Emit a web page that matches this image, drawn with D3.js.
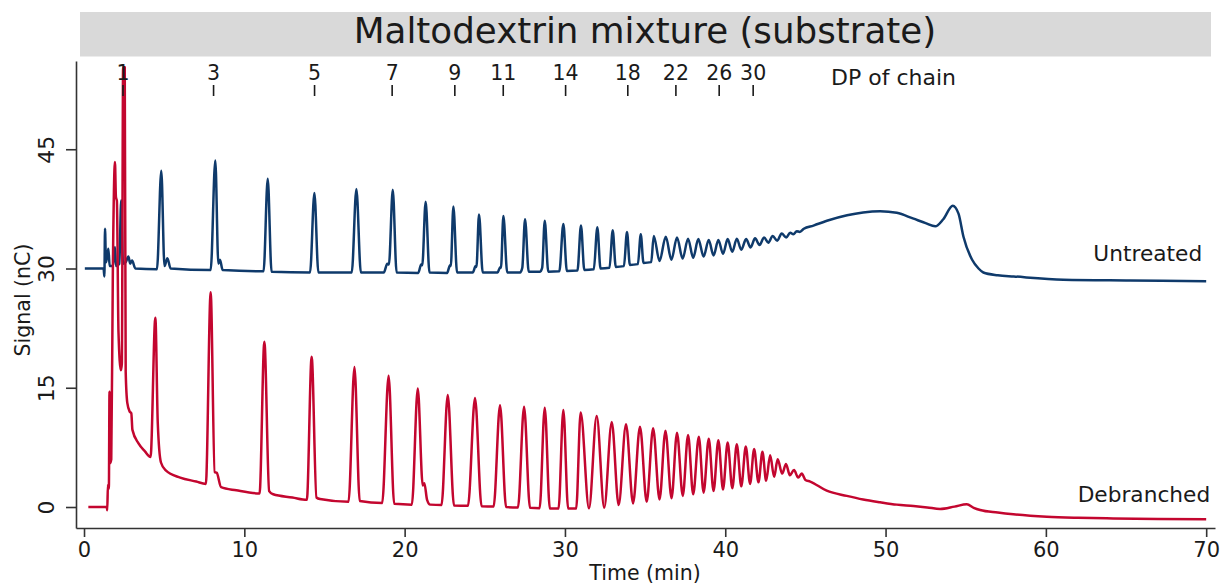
<!DOCTYPE html>
<html>
<head>
<meta charset="utf-8">
<script src="https://cdn.jsdelivr.net/npm/d3@7"></script>
<style>
  body { margin: 0; background: #fff; }
  svg { font-family: "DejaVu Sans", sans-serif; }
</style>
</head>
<body>
<svg id="chart" width="1220" height="585"></svg>
<script>
// values: [time (min), signal (nC)]
const untreated = [
  [0.05,30.0],[1.22,30.0],[1.27,29.0],[1.31,35.0],[1.37,30.8],[1.45,31.6],[1.52,32.5],[1.6,30.3],[1.8,30.3],[1.93,32.7],[2.0,30.3],[2.2,30.6],[2.32,38.6],[2.43,30.6],[2.6,30.8],[2.77,31.5],[2.88,30.6],[3.0,31.0],[3.2,30.0],
  [4.55,29.9],[4.82,42.3],[5.02,30.3],[5.2,31.3],[5.4,30.0],
  [7.9,29.8],[8.19,43.6],[8.38,30.6],[8.48,31.1],[8.65,29.8],
  [11.2,29.65],[11.46,41.3],[11.7,29.6],
  [14.1,29.5],[14.37,39.5],[14.62,29.5],
  [16.7,29.5],[16.99,40.0],[17.27,29.5],
  [18.7,29.5],[18.92,30.6],[19.02,30.5],[19.26,39.9],[19.5,29.5],
  [20.85,29.45],[21.03,30.5],[21.1,30.4],[21.31,38.4],[21.55,29.5],
  [22.65,29.45],[22.83,30.4],[22.88,30.3],[23.04,37.8],[23.27,29.5],
  [24.25,29.5],[24.43,30.3],[24.48,30.2],[24.64,36.8],[24.87,29.5],
  [25.8,29.5],[25.97,30.2],[26.01,30.1],[26.16,36.6],[26.4,29.5],
  [27.2,29.5],[27.34,30.1],[27.51,36.2],[27.74,29.6],
  [28.45,29.6],[28.58,30.1],[28.74,36.0],[28.96,29.6],
  [29.65,29.65],[29.9,35.6],[30.12,29.7],
  [30.78,29.75],[31.0,35.4],[31.21,29.8],
  [31.8,29.9],[32.02,35.2],[32.22,30.0],
  [32.78,30.1],[32.98,34.8],[33.17,30.2],
  [33.68,30.3],[33.87,34.6],[34.05,30.45],
  [34.55,30.55],[34.73,34.3],[34.9,30.7],
  [35.38,30.8],[35.54,34.1],[35.9,30.95],
  [36.29,34.0],[36.64,31.1],[36.99,33.9],[37.34,31.25],[37.68,33.75],[38.0,31.35],[38.32,33.7],[38.65,31.5],
  [38.97,33.6],[39.27,31.65],[39.57,33.6],[39.86,31.85],[40.15,33.7],[40.44,32.1],[40.72,33.75],[41.0,32.35],
  [41.3,33.7],[41.58,32.65],[41.86,33.8],[42.14,32.95],[42.42,33.9],[42.69,33.25],[42.96,34.1],[43.24,33.5],
  [43.52,34.4],[43.8,33.9],[44.05,34.5],[44.25,34.3],[44.46,34.7],[44.65,34.6],[44.9,35.0],
  [45.5,35.4],[46.5,36.1],[47.6,36.7],[48.6,37.05],[49.66,37.2],[50.7,37.0],[51.7,36.3],[52.5,35.7],[53.1,35.3],
  [53.6,36.2],[54.19,37.9],[54.55,36.9],[54.86,34.0],[55.4,31.1],[55.8,30.0],[56.1,29.5],[57.0,29.15],[58.0,29.0],
  [61.1,28.6],[65.25,28.5],[70.0,28.4]
];

const debranched = [
  [0.27,0.0],[1.42,0.0],[1.45,-0.4],[1.49,2.8],[1.55,2.3],[1.59,14.5],[1.62,5.5],[1.7,6.0],[1.8,30.0],[1.93,43.4],[1.99,39.0],[2.05,38.5],
  [2.15,22.0],[2.3,17.2],[2.36,18.0],[2.44,55.3],[2.54,55.3],[2.6,17.0],[2.7,13.1],[2.85,12.0],[2.95,11.8],[3.02,9.7],[3.4,8.0],[3.8,7.0],[4.15,6.3],
  [4.45,23.8],[4.6,10.6],[4.8,5.6],[5.1,4.6],[6.0,3.7],[7.0,3.2],[7.6,2.9],
  [7.9,27.0],[8.15,4.4],[8.28,4.3],[8.55,2.5],[9.5,2.1],[10.95,1.7],
  [11.25,20.8],[11.55,2.0],[11.8,1.6],[13.0,1.2],[13.9,0.9],
  [14.2,18.9],[14.5,1.2],[14.72,1.0],[16.5,0.65],
  [16.87,17.6],[17.2,0.75],[18.6,0.5],
  [19.0,16.5],[19.35,0.4],[20.45,0.3],
  [20.82,14.9],[21.13,2.7],[21.23,3.0],[21.4,0.9],[21.6,0.3],[22.3,0.25],
  [22.69,14.1],[23.08,0.2],[23.95,0.15],
  [24.39,13.7],[24.8,0.1],[25.55,0.05],
  [25.95,12.8],[26.33,0.0],[27.07,-0.05],
  [27.45,12.6],[27.82,-0.1],[28.42,-0.15],
  [28.74,12.5],[29.06,-0.2],[29.6,-0.2],
  [29.9,12.2],[30.2,-0.2],[30.7,-0.2],
  [30.98,11.9],[31.5,-0.17],[31.98,11.45],[32.45,-0.1],[32.92,10.7],[33.35,0.25],[33.81,10.4],[34.25,0.45],
  [34.68,10.1],[35.1,0.66],[35.5,9.9],[35.9,0.95],[36.27,9.6],[36.65,1.1],[36.99,9.35],[37.35,1.4],
  [37.68,9.05],[38.0,1.6],[38.35,8.85],[38.65,1.8],[38.97,8.6],[39.27,2.0],[39.57,8.4],[39.86,2.2],
  [40.15,8.1],[40.44,2.35],[40.72,7.9],[41.0,2.6],[41.28,7.6],[41.55,2.9],[41.8,7.3],[42.07,3.1],
  [42.32,6.95],[42.55,3.3],[42.8,6.5],[43.05,3.8],[43.27,6.0],[43.55,4.2],[43.79,5.4],[44.03,4.0],
  [44.29,4.65],[44.55,3.7],[44.77,4.2],[45.0,3.4],[45.3,3.2],[46.33,2.05],[47.58,1.4],[48.6,0.95],
  [49.66,0.6],[50.7,0.3],[51.74,0.13],[52.6,-0.05],[53.4,-0.25],[54.3,0.05],[55.07,0.35],[55.5,-0.1],
  [55.9,-0.38],[57.0,-0.7],[57.97,-0.92],[60.06,-1.22],[62.0,-1.35],[64.2,-1.43],[67.0,-1.5],[70.0,-1.55]
];

const dpLabels = ["1", "3", "5", "7", "9", "11", "14", "18", "22", "26", "30"];
const dpTimes = [2.40, 8.05, 14.35, 19.19, 23.10, 26.12, 30.01, 33.89, 36.89, 39.59, 41.71];
const xTicks = [0, 10, 20, 30, 40, 50, 60, 70];
const yTicks = [0, 15, 30, 45];

const svg = d3.select("#chart");
const ink = "#1a1a1a";

const x = d3.scaleLinear().domain([-0.5, 70.55]).range([76, 1215]);
const y = d3.scaleLinear().domain([-2.64, 56.1]).range([528, 61]);

// title strip
svg.append("rect")
    .attr("x", 80).attr("y", 12)
    .attr("width", 1131).attr("height", 44.5)
    .attr("fill", "#d9d9d9");
svg.append("text")
    .attr("x", 645).attr("y", 43)
    .attr("text-anchor", "middle")
    .attr("font-size", 35.7)
    .attr("fill", ink)
    .text("Maltodextrin mixture (substrate)");

// traces
const line = d3.line()
    .x(d => x(d[0]))
    .y(d => y(d[1]))
    .curve(d3.curveMonotoneX);

svg.append("path")
    .datum(untreated)
    .attr("d", line)
    .attr("fill", "none")
    .attr("stroke", "#0f3a6b")
    .attr("stroke-width", 2.5)
    .attr("stroke-linejoin", "round");

svg.append("path")
    .datum(debranched)
    .attr("d", line)
    .attr("fill", "none")
    .attr("stroke", "#c3062f")
    .attr("stroke-width", 2.5)
    .attr("stroke-linejoin", "round");

// axes
const xAxis = svg.append("g")
    .attr("transform", "translate(0,528)")
    .call(d3.axisBottom(x).tickValues(xTicks).tickSize(9).tickSizeOuter(0).tickPadding(5));

const yAxis = svg.append("g")
    .attr("transform", "translate(76,0)")
    .call(d3.axisLeft(y).tickValues(yTicks).tickSize(10).tickSizeOuter(0));

[xAxis, yAxis].forEach(g => {
    g.select(".domain").attr("stroke", "#333").attr("stroke-width", 1.6);
    g.selectAll(".tick line").attr("stroke", "#333").attr("stroke-width", 1.6);
    g.selectAll("text").attr("font-size", 21).attr("fill", ink)
        .attr("font-family", "DejaVu Sans");
});

yAxis.selectAll(".tick text")
    .attr("font-size", 22)
    .attr("transform", "rotate(-90)")
    .attr("x", 0).attr("y", -22).attr("dy", 0)
    .attr("text-anchor", "middle");

// DP of chain markers
const dpAxis = svg.append("g")
    .attr("transform", "translate(0,96)")
    .call(d3.axisTop(x).tickValues(dpTimes).tickSize(11).tickPadding(5)
        .tickFormat((d, i) => dpLabels[i]));
dpAxis.select(".domain").remove();
dpAxis.selectAll(".tick line").attr("stroke", ink).attr("stroke-width", 1.6);
dpAxis.selectAll("text").attr("font-size", 20.5).attr("fill", ink)
    .attr("font-family", "DejaVu Sans");

svg.append("text")
    .attr("x", x(50.5)).attr("y", 85)
    .attr("text-anchor", "middle")
    .attr("font-size", 22).attr("fill", ink)
    .text("DP of chain");

// series labels
svg.append("text")
    .attr("x", x(69.75)).attr("y", 260.5)
    .attr("text-anchor", "end")
    .attr("font-size", 21.7).attr("fill", ink)
    .text("Untreated");
svg.append("text")
    .attr("x", x(70.25)).attr("y", 501.5)
    .attr("text-anchor", "end")
    .attr("font-size", 21.7).attr("fill", ink)
    .text("Debranched");

// axis titles
svg.append("text")
    .attr("x", 645).attr("y", 580)
    .attr("text-anchor", "middle")
    .attr("font-size", 20.5).attr("fill", ink)
    .text("Time (min)");
svg.append("text")
    .attr("transform", "translate(30,300) rotate(-90)")
    .attr("text-anchor", "middle")
    .attr("font-size", 20.5).attr("fill", ink)
    .text("Signal (nC)");
</script>
</body>
</html>
